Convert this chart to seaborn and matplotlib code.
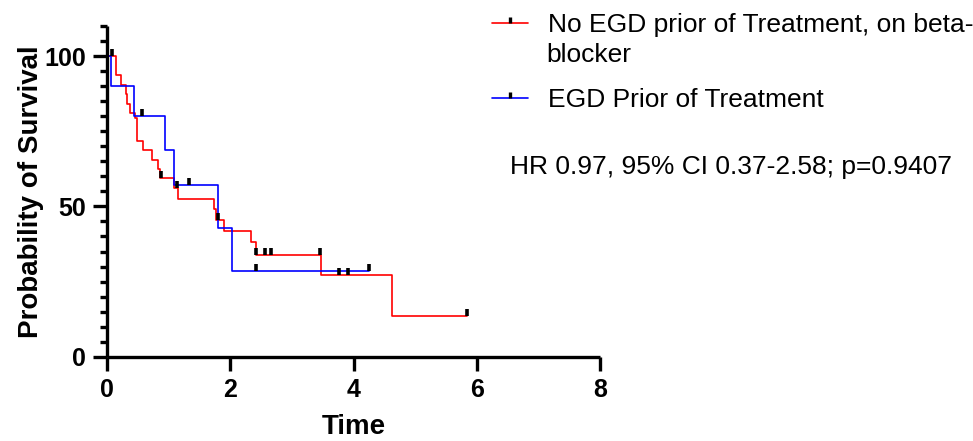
import numpy as np
import pandas as pd
import matplotlib
matplotlib.use("Agg")
import matplotlib.pyplot as plt
from matplotlib.path import Path
from matplotlib.lines import Line2D
import seaborn as sns

# Kaplan-Meier step values
red_label = "No EGD prior of Treatment, on beta-"
red_label_cont = "blocker"
blue_label = "EGD Prior of Treatment"

red_time = [0, 0.15, 0.23, 0.30, 0.33, 0.37, 0.455, 0.48, 0.59, 0.735, 0.83, 0.86,
            1.09, 1.15, 1.74, 1.77, 1.89, 2.33, 2.41, 3.48, 4.63, 5.84]
red_surv = [100, 93.6, 90.3, 87.3, 84.2, 81.2, 79.3, 71.9, 68.9, 65.6, 62.4, 59.3,
            56.0, 52.6, 49.3, 45.5, 41.8, 38.1, 34.0, 27.3, 13.7, 13.7]

blue_time = [0, 0.065, 0.445, 0.94, 1.09, 1.80, 2.02, 4.25]
blue_surv = [100, 90.0, 80.0, 68.8, 57.1, 42.9, 28.4, 28.4]

# censored observations
red_cens_time = [0.076, 0.88, 1.13, 1.80, 2.42, 2.56, 2.66, 3.46, 3.77, 3.91, 5.84]
red_cens_surv = [100, 59.3, 56.0, 45.5, 34.0, 34.0, 34.0, 34.0, 27.3, 27.3, 13.7]
blue_cens_time = [0.56, 1.33, 2.42, 4.25]
blue_cens_surv = [80.0, 57.1, 28.4, 28.4]

x_ticks = [0, 2, 4, 6, 8]
y_ticks = [0, 50, 100]
stats_text = "HR 0.97, 95% CI 0.37-2.58; p=0.9407"

curves = pd.concat([
    pd.DataFrame({"Time": red_time, "Survival": red_surv, "Group": red_label}),
    pd.DataFrame({"Time": blue_time, "Survival": blue_surv, "Group": blue_label}),
])
censors = pd.DataFrame({"Time": red_cens_time + blue_cens_time,
                        "Survival": red_cens_surv + blue_cens_surv})

sns.set_style("ticks", {"axes.edgecolor": "black", "text.color": "black",
                        "axes.labelcolor": "black", "xtick.color": "black",
                        "ytick.color": "black"})
plt.rcParams["font.family"] = ["Liberation Sans", "DejaVu Sans"]

fig = plt.figure(figsize=(9.73, 4.41), dpi=100)
ax = fig.add_axes([0.11, 0.191, 0.5067, 0.75])

sns.lineplot(data=curves, x="Time", y="Survival", hue="Group",
             palette={red_label: "#ff0000", blue_label: "#0000ff"},
             estimator=None, sort=False, drawstyle="steps-post",
             linewidth=1.2, legend=False, ax=ax)

# censor tick: short vertical bar standing on the curve
tick = Path([(0, 0), (0, 1)])
sns.scatterplot(data=censors, x="Time", y="Survival", marker=tick, s=90,
                color="black", edgecolor="black", linewidth=2.6, ax=ax, zorder=5)

ax.set_xlim(0, 8)
ax.set_ylim(0, 110)
ax.set_xticks(x_ticks)
ax.set_yticks(y_ticks)
ax.set_yticks([t for t in np.arange(5, 111, 5) if t not in y_ticks], minor=True)
ax.tick_params(axis="both", which="major", width=2.4, length=10, labelsize=18, pad=5)
ax.tick_params(axis="y", which="minor", width=2.4, length=5)
for lab in ax.get_xticklabels() + ax.get_yticklabels():
    lab.set_fontweight("bold")
for side in ["left", "bottom"]:
    ax.spines[side].set_linewidth(2.4)
    ax.spines[side].set_capstyle("butt")
sns.despine(ax=ax)

ax.set_xlabel("Time", fontsize=20, fontweight="bold", labelpad=9)
ax.set_ylabel("Probability of Survival", fontsize=20, fontweight="bold", labelpad=0)

handles = [
    Line2D([], [], color="#ff0000", linewidth=1.2, marker=tick, markersize=9,
           markeredgecolor="black", markeredgewidth=2.4),
    Line2D([], [], color="#0000ff", linewidth=1.2, marker=tick, markersize=9,
           markeredgecolor="black", markeredgewidth=2.4),
]
fig.legend(handles, [red_label, blue_label], loc="upper left",
           bbox_to_anchor=(0.495, 0.995), frameon=False, fontsize=19,
           handlelength=1.35, handletextpad=0.75, labelspacing=1.95,
           numpoints=1, borderaxespad=0)
fig.text(546 / 973, 1 - 55 / 441, red_label_cont, fontsize=19, va="center", ha="left")

fig.text(510 / 973, 1 - 167 / 441, stats_text, fontsize=19, va="center", ha="left")

fig.savefig("out.png", dpi=100)
